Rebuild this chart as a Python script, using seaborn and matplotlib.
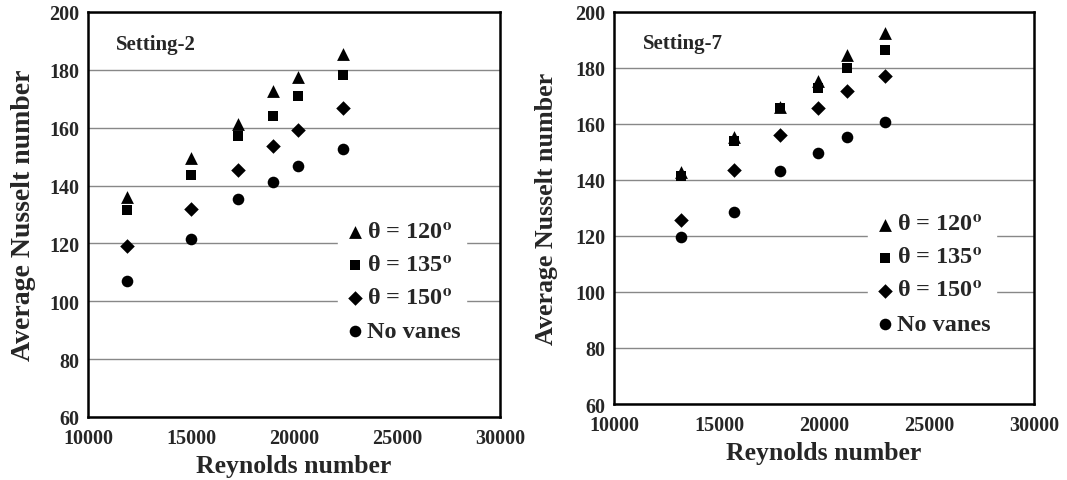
import numpy as np
import pandas as pd
import matplotlib
matplotlib.use('Agg')
import matplotlib.pyplot as plt
import seaborn as sns

# Setting-2
re_s2 = [11900, 15000, 17300, 19000, 20200, 22400]
nu_s2_120 = [136.0, 149.5, 161.2, 172.8, 177.6, 185.5]
nu_s2_135 = [131.7, 143.7, 157.1, 164.2, 171.0, 178.3]
nu_s2_150 = [119.0, 131.9, 145.3, 153.6, 159.3, 166.9]
nu_s2_none = [106.9, 121.5, 135.2, 141.3, 146.7, 152.6]

# Setting-7
re_s7 = [13200, 15700, 17900, 19700, 21100, 22900]
nu_s7_120 = [142.8, 155.3, 166.0, 175.5, 184.8, 192.5]
nu_s7_135 = [141.6, 153.8, 165.7, 172.8, 180.0, 186.5]
nu_s7_150 = [125.6, 143.7, 156.1, 165.6, 171.9, 177.2]
nu_s7_none = [119.7, 128.6, 143.1, 149.6, 155.4, 160.6]

labels = [r'θ = 120$^{\mathbf{o}}$', r'θ = 135$^{\mathbf{o}}$', r'θ = 150$^{\mathbf{o}}$', 'No vanes']
markers = ['^', 's', 'D', 'o']
sizes = [85, 55, 55, 70]

sns.set_style('white')
plt.rcParams['font.family'] = ['Liberation Serif', 'DejaVu Serif']
plt.rcParams['font.weight'] = 'bold'
plt.rcParams['mathtext.fontset'] = 'stix'

fig = plt.figure(figsize=(10.67, 4.81), dpi=100)
ax1 = fig.add_axes([0.0825, 0.131, 0.386, 0.842])
ax2 = fig.add_axes([0.5755, 0.158, 0.3936, 0.815])


def draw(ax, re, series, title, leg_anchor, ylab_size, ylab_pad):
    for ys, lab, m, s in zip(series, labels, markers, sizes):
        sns.scatterplot(x=re, y=ys, ax=ax, marker=m, color='black', s=s,
                        edgecolor='black', linewidth=0, label=lab, zorder=3)
    ax.set_xlim(10000, 30000)
    ax.set_ylim(60, 200)
    ax.set_xticks([10000, 15000, 20000, 25000, 30000])
    ax.set_yticks(np.arange(60, 201, 20))
    ax.yaxis.grid(True, color='#888888', linewidth=1)
    ax.xaxis.grid(False)
    for sp in ax.spines.values():
        sp.set_color('black')
        sp.set_linewidth(1.8)
    ax.tick_params(axis='x', direction='in', length=5, width=1, labelsize=14.5, pad=8)
    ax.tick_params(axis='y', direction='out', length=3, width=1, labelsize=14.5, pad=3)
    for t in ax.get_xticklabels() + ax.get_yticklabels():
        t.set_fontweight('bold')
    ax.set_xlabel('Reynolds number', fontsize=18.5, fontweight='bold', labelpad=4)
    ax.set_ylabel('Average Nusselt number', fontsize=ylab_size, fontweight='bold', labelpad=ylab_pad)
    ax.text(0.068, 0.922, title, transform=ax.transAxes, fontsize=15,
            fontweight='bold', va='center', ha='left')
    leg = ax.legend(loc='upper left', bbox_to_anchor=leg_anchor, frameon=True,
                    fancybox=False, facecolor='white', edgecolor='white',
                    framealpha=1, prop={'size': 17.5, 'weight': 'bold'},
                    handletextpad=0.0, labelspacing=0.45, borderpad=0.2,
                    handlelength=1.0, borderaxespad=0)
    leg.set_zorder(2.5)


draw(ax1, re_s2, [nu_s2_120, nu_s2_135, nu_s2_150, nu_s2_none], 'Setting-2', (0.607, 0.495), 20, 10)
draw(ax2, re_s7, [nu_s7_120, nu_s7_135, nu_s7_150, nu_s7_none], 'Setting-7', (0.605, 0.497), 18.7, 13)

fig.savefig('out.png', dpi=100)
